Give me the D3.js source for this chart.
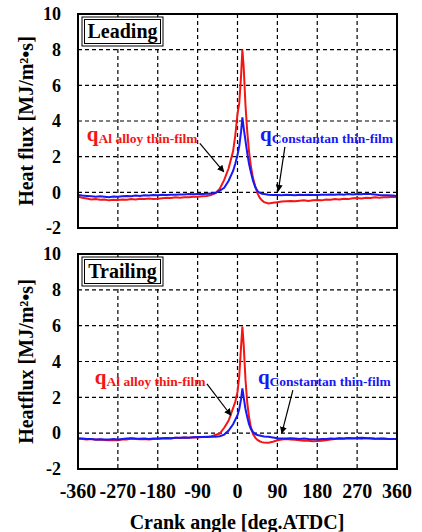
<!DOCTYPE html>
<html>
<head>
<meta charset="utf-8">
<script src="https://cdn.jsdelivr.net/npm/d3@7"></script>
<style>
  body { margin: 0; background: #fff; }
  svg text { font-family: "Liberation Serif", "Times New Roman", serif; font-weight: bold; }
</style>
</head>
<body>
<div id="chart"></div>
<script>
// crank angle [deg.ATDC], shared by all four traces
var crankAngle = [-360,-350,-340,-330,-320,-310,-300,-290,-280,-270,-260,-250,-240,-230,-220,-210,-200,-190,-180,-170,-160,-150,-140,-130,-120,-110,-100,-90,-80,-70,-60,
  -50,-40,-30,-20,-10,-5,0,4,8,11,14,18,22,26,30,35,40,45,50,55,60,70,
  80,90,100,110,120,130,140,150,160,170,180,190,200,210,220,230,240,250,260,270,280,290,300,310,320,330,340,350,360];

var leadingAl = [-0.25,-0.3,-0.35,-0.4,-0.38,-0.42,-0.4,-0.45,-0.42,-0.43,-0.4,-0.42,-0.38,-0.4,-0.36,-0.38,-0.35,-0.38,-0.36,-0.33,-0.3,-0.32,-0.28,-0.3,-0.27,-0.28,-0.25,-0.25,-0.22,-0.2,-0.15,
  -0.05,0.2,0.7,1.35,2.3,3.2,4.4,5.0,6.5,8.0,7.0,4.9,3.4,2.3,1.5,0.8,0.35,-0.05,-0.3,-0.45,-0.55,-0.62,
  -0.58,-0.55,-0.52,-0.5,-0.48,-0.5,-0.47,-0.45,-0.48,-0.44,-0.43,-0.45,-0.4,-0.42,-0.38,-0.4,-0.36,-0.38,-0.33,-0.32,-0.34,-0.3,-0.32,-0.28,-0.3,-0.27,-0.28,-0.25,-0.27];

var leadingCon = [-0.15,-0.18,-0.2,-0.22,-0.25,-0.22,-0.25,-0.28,-0.24,-0.25,-0.22,-0.2,-0.22,-0.18,-0.2,-0.17,-0.18,-0.15,-0.16,-0.14,-0.15,-0.13,-0.14,-0.12,-0.12,-0.1,-0.11,-0.1,-0.09,-0.08,-0.06,
  -0.04,0.1,0.25,0.65,1.2,1.6,2.1,2.6,3.4,4.2,3.6,2.9,2.2,1.6,1.15,0.65,0.3,0.08,-0.02,-0.08,-0.1,-0.13,
  -0.15,-0.15,-0.16,-0.14,-0.15,-0.17,-0.14,-0.15,-0.13,-0.15,-0.15,-0.13,-0.14,-0.12,-0.14,-0.11,-0.13,-0.1,-0.12,-0.1,-0.11,-0.08,-0.1,-0.12,-0.15,-0.17,-0.16,-0.18,-0.2];

var trailingAl = [-0.3,-0.32,-0.35,-0.33,-0.37,-0.36,-0.38,-0.4,-0.38,-0.39,-0.36,-0.35,-0.3,-0.32,-0.34,-0.33,-0.35,-0.32,-0.33,-0.3,-0.28,-0.3,-0.26,-0.27,-0.24,-0.25,-0.23,-0.24,-0.22,-0.2,-0.18,
  -0.1,-0.02,0.3,0.7,1.4,1.75,2.3,3.2,4.8,5.95,4.9,3.0,1.7,0.9,0.35,-0.05,-0.25,-0.38,-0.45,-0.5,-0.52,-0.53,
  -0.48,-0.4,-0.35,-0.33,-0.35,-0.37,-0.4,-0.42,-0.43,-0.45,-0.44,-0.42,-0.4,-0.36,-0.33,-0.3,-0.31,-0.28,-0.3,-0.3,-0.31,-0.28,-0.3,-0.32,-0.3,-0.31,-0.33,-0.32,-0.33];

var trailingCon = [-0.3,-0.3,-0.33,-0.32,-0.35,-0.34,-0.36,-0.35,-0.33,-0.35,-0.32,-0.3,-0.28,-0.3,-0.31,-0.3,-0.32,-0.3,-0.3,-0.28,-0.27,-0.28,-0.26,-0.26,-0.24,-0.25,-0.23,-0.22,-0.22,-0.21,-0.2,
  -0.2,-0.17,-0.08,0.15,0.5,0.75,1.0,1.35,1.9,2.5,2.0,1.35,0.9,0.5,0.25,0.07,-0.05,-0.1,-0.13,-0.16,-0.18,-0.2,
  -0.24,-0.28,-0.3,-0.3,-0.28,-0.3,-0.32,-0.3,-0.33,-0.34,-0.35,-0.33,-0.32,-0.3,-0.31,-0.28,-0.3,-0.27,-0.28,-0.27,-0.25,-0.27,-0.28,-0.3,-0.31,-0.3,-0.32,-0.33,-0.33];

var xTicks = [-360,-270,-180,-90,0,90,180,270,360];
var yTicks = [-2,0,2,4,6,8,10];
var panelNames = ['Leading','Trailing'];
var yTitles = ['Heat flux [MJ/m\u00b2\u2022s]','Heatflux [MJ/m\u00b2\u2022s]'];
var alLabel = 'Al alloy thin-film';
var conLabel = 'Constantan thin-film';

var red = '#f51515', blue = '#1818f5';
var W = 422, H = 532;
var svg = d3.select('#chart').append('svg').attr('width', W).attr('height', H);

svg.append('defs').append('marker')
   .attr('id', 'arrow').attr('viewBox', '0 0 10 10')
   .attr('refX', 9).attr('refY', 5)
   .attr('markerWidth', 7).attr('markerHeight', 7)
   .attr('markerUnits', 'userSpaceOnUse')
   .attr('orient', 'auto')
   .append('path').attr('d', 'M0,0 L10,5 L0,10 Z').style('fill', 'black');

var x = d3.scaleLinear().domain([-360, 360]).range([78, 397]);

var panels = [
  {top: 14, bottom: 228, al: leadingAl, con: leadingCon,
   alText: [-340, 2.9], alArrow: [[-85, 2.75], [-31, 1.15]],
   conText: [51, 2.9], conArrow: [[107, 2.55], [92, 0.07]]},
  {top: 254, bottom: 469, al: trailingAl, con: trailingCon,
   alText: [-322, 2.75], alArrow: [[-69, 2.75], [-15, 1.0]],
   conText: [46, 2.75], conArrow: [[125, 2.4], [100, 0.0]]}
];

panels.forEach(function(p, i) {
  var y = d3.scaleLinear().domain([-2, 10]).range([p.bottom, p.top]);
  var g = svg.append('g');

  // dashed grid
  g.selectAll('.vgrid').data(xTicks.slice(1, -1)).enter().append('line')
   .attr('x1', function(d){return x(d);}).attr('x2', function(d){return x(d);})
   .attr('y1', p.top).attr('y2', p.bottom)
   .style('stroke', 'black').style('stroke-width', 1.2).style('stroke-dasharray', '4,3');
  g.selectAll('.hgrid').data(yTicks.slice(1, -1)).enter().append('line')
   .attr('y1', function(d){return y(d);}).attr('y2', function(d){return y(d);})
   .attr('x1', x(-360)).attr('x2', x(360))
   .style('stroke', 'black').style('stroke-width', 1.2).style('stroke-dasharray', '4,3');

  // y tick labels
  g.selectAll('.ytl').data(yTicks).enter().append('text')
   .attr('x', 61).attr('y', function(d){return y(d);}).attr('dy', '0.35em')
   .attr('text-anchor', 'end').style('font-size', '18px')
   .text(function(d){return d;});

  // y title
  g.append('text')
   .attr('transform', 'translate(33,' + ((p.top + p.bottom) / 2) + ') rotate(-90)')
   .attr('text-anchor', 'middle').style('font-size', '20px')
   .text(yTitles[i]);

  var line = d3.line()
     .x(function(d){return x(d[0]);})
     .y(function(d){return y(d[1]);});

  g.append('path').datum(d3.zip(crankAngle, p.al)).attr('d', line)
   .style('fill', 'none').style('stroke', red).style('stroke-width', 2);
  g.append('path').datum(d3.zip(crankAngle, p.con)).attr('d', line)
   .style('fill', 'none').style('stroke', blue).style('stroke-width', 2);

  // frame
  g.append('rect').attr('x', x(-360)).attr('y', p.top)
   .attr('width', x(360) - x(-360)).attr('height', p.bottom - p.top)
   .style('fill', 'none').style('stroke', 'black').style('stroke-width', 2);

  // panel name box (double border)
  var bx = 82, by = p.top + 3, bw = 81, bh = 29;
  g.append('rect').attr('x', bx).attr('y', by).attr('width', bw).attr('height', bh)
   .style('fill', 'white').style('stroke', 'black').style('stroke-width', 1);
  g.append('rect').attr('x', bx + 2.5).attr('y', by + 2.5).attr('width', bw - 5).attr('height', bh - 5)
   .style('fill', 'none').style('stroke', 'black').style('stroke-width', 1);
  g.append('text').attr('x', bx + bw / 2).attr('y', by + 21)
   .attr('text-anchor', 'middle').style('font-size', '20px')
   .text(panelNames[i]);

  // annotations
  [[p.alText, p.alArrow, red, alLabel], [p.conText, p.conArrow, blue, conLabel]].forEach(function(a) {
    var t = g.append('text').attr('x', x(a[0][0])).attr('y', y(a[0][1])).style('fill', a[2]);
    t.append('tspan').style('font-size', '21px').text('q');
    t.append('tspan').attr('dy', 2).style('font-size', '13.5px').text(a[3]);
    g.append('line')
     .attr('x1', x(a[1][0][0])).attr('y1', y(a[1][0][1]))
     .attr('x2', x(a[1][1][0])).attr('y2', y(a[1][1][1]))
     .style('stroke', 'black').style('stroke-width', 1.2)
     .attr('marker-end', 'url(#arrow)');
  });
});

// x tick labels and title
svg.selectAll('.xtl').data(xTicks).enter().append('text')
   .attr('x', function(d){return x(d);}).attr('y', 498)
   .attr('text-anchor', 'middle').style('font-size', '20px')
   .text(function(d){return d;});
svg.append('text').attr('x', 237).attr('y', 529)
   .attr('text-anchor', 'middle').style('font-size', '20px')
   .text('Crank angle [deg.ATDC]');
</script>
</body>
</html>
